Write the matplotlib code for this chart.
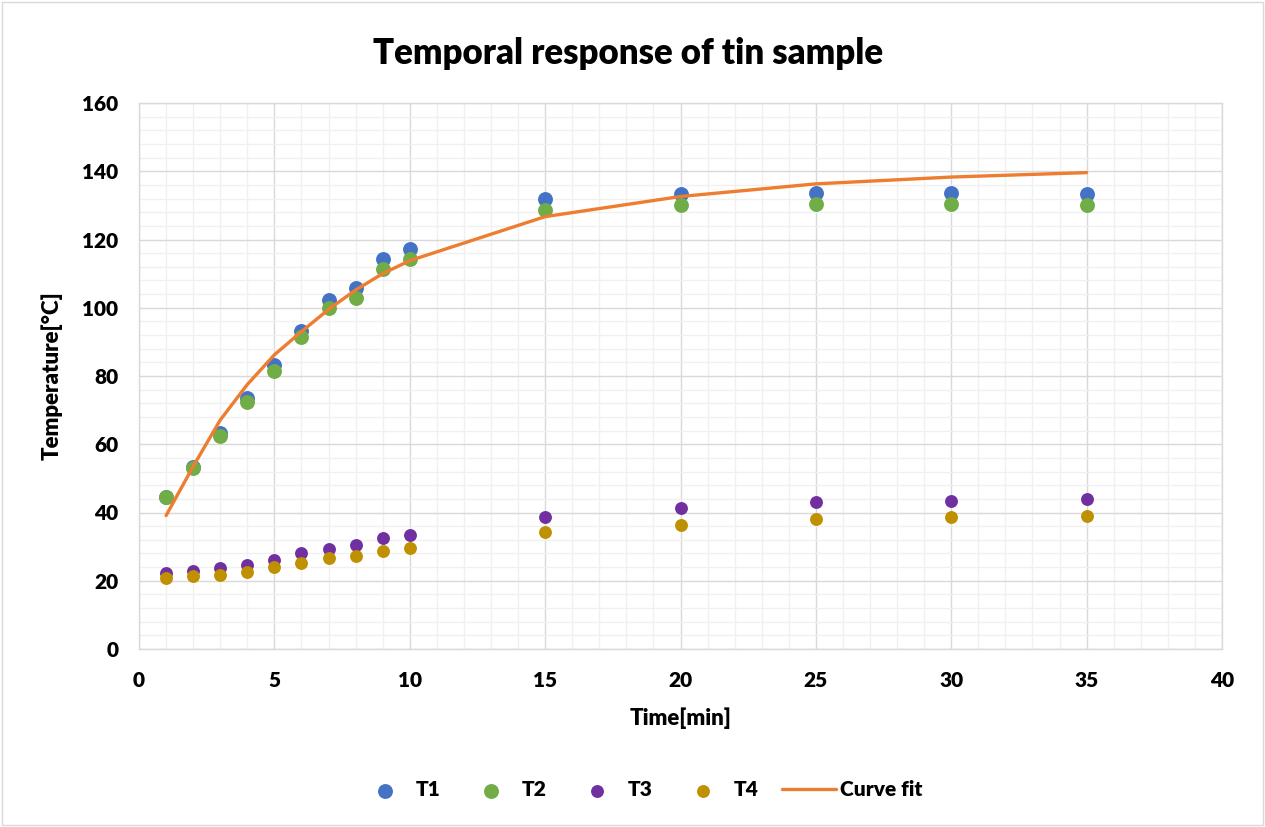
import matplotlib
matplotlib.use("Agg")
import matplotlib.pyplot as plt
from matplotlib.ticker import MultipleLocator
from matplotlib.patches import Rectangle

time_min = [1, 2, 3, 4, 5, 6, 7, 8, 9, 10, 15, 20, 25, 30, 35]
t1 = [44.6, 53.4, 63.2, 73.5, 83.2, 93.3, 102.3, 105.7, 114.3, 117.2, 132.0, 133.3, 133.7, 133.7, 133.3]
t2 = [44.4, 53.0, 62.4, 72.5, 81.5, 91.3, 99.8, 103.0, 111.3, 114.3, 128.6, 130.0, 130.4, 130.3, 130.2]
t3 = [22.4, 22.9, 23.6, 24.6, 26.1, 28.0, 29.3, 30.4, 32.4, 33.5, 38.8, 41.2, 43.0, 43.4, 44.0]
t4 = [20.8, 21.4, 21.7, 22.6, 23.9, 25.1, 26.6, 27.3, 28.7, 29.5, 34.4, 36.3, 38.2, 38.6, 39.1]
curve_fit = [39.1, 53.5, 67.1, 77.5, 86.2, 93.0, 99.5, 105.2, 110.0, 113.8, 126.7, 132.6, 136.3, 138.3, 139.6]

title = "Temporal response of tin sample"
xlabel = "Time[min]"
ylabel = "Temperature[°C]"

plt.rcParams['font.family'] = ['Lato', 'DejaVu Sans']
W = 'heavy'

fig = plt.figure(figsize=(12.65, 8.27), dpi=100)
ax = fig.add_axes([139/1265, 1-649/827, (1222-139)/1265, (649-103)/827])

ms = 115
ax.scatter(time_min, t1, s=ms, color='#4472C4', label='T1', zorder=3, linewidths=0)
ax.scatter(time_min, t2, s=ms, color='#70AD47', label='T2', zorder=3, linewidths=0)
ax.scatter(time_min, t3, s=ms*0.75, color='#7030A0', label='T3', zorder=3, linewidths=0)
ax.scatter(time_min, t4, s=ms*0.75, color='#BF9000', label='T4', zorder=3, linewidths=0)
ax.plot(time_min, curve_fit, color='#ED7D31', lw=2.4, label='Curve fit', zorder=4,
        solid_capstyle='round')

ax.set_xlim(0, 40)
ax.set_ylim(0, 160)
ax.xaxis.set_major_locator(MultipleLocator(5))
ax.xaxis.set_minor_locator(MultipleLocator(1))
ax.yaxis.set_major_locator(MultipleLocator(20))
ax.yaxis.set_minor_locator(MultipleLocator(4))
ax.grid(which='major', color='#d9d9d9', lw=1.0, zorder=1)
ax.grid(which='minor', color='#f0f0f0', lw=1.0, zorder=0)
ax.set_axisbelow(True)
for s in ax.spines.values():
    s.set_color('#d9d9d9')
    s.set_linewidth(1.0)
ax.tick_params(which='both', length=0, labelsize=15)
ax.tick_params(axis='x', pad=16)
ax.tick_params(axis='y', pad=15)
for lab in ax.get_xticklabels() + ax.get_yticklabels():
    lab.set_fontweight(W)

ax.set_xlabel(xlabel, fontsize=16, fontweight=W, labelpad=12)
ax.set_ylabel(ylabel, fontsize=16, fontweight=W, labelpad=14)
fig.text(628/1265, 1-54/827, title, fontsize=25, fontweight=W, ha='center', va='center')

leg = fig.legend(loc='center', bbox_to_anchor=(640/1265, 1-790/827), ncol=5, frameon=False,
                 prop={'weight': W, 'size': 15}, handletextpad=0.2, columnspacing=1.1,
                 handlelength=2.6, markerscale=1.0, borderpad=0.2)

fig.patches.append(Rectangle((2/1265, 2/827), 1-4/1265, 1-4/827, transform=fig.transFigure,
                             fill=False, edgecolor='#d9d9d9', lw=1.0))

fig.savefig('out.png', dpi=100)
